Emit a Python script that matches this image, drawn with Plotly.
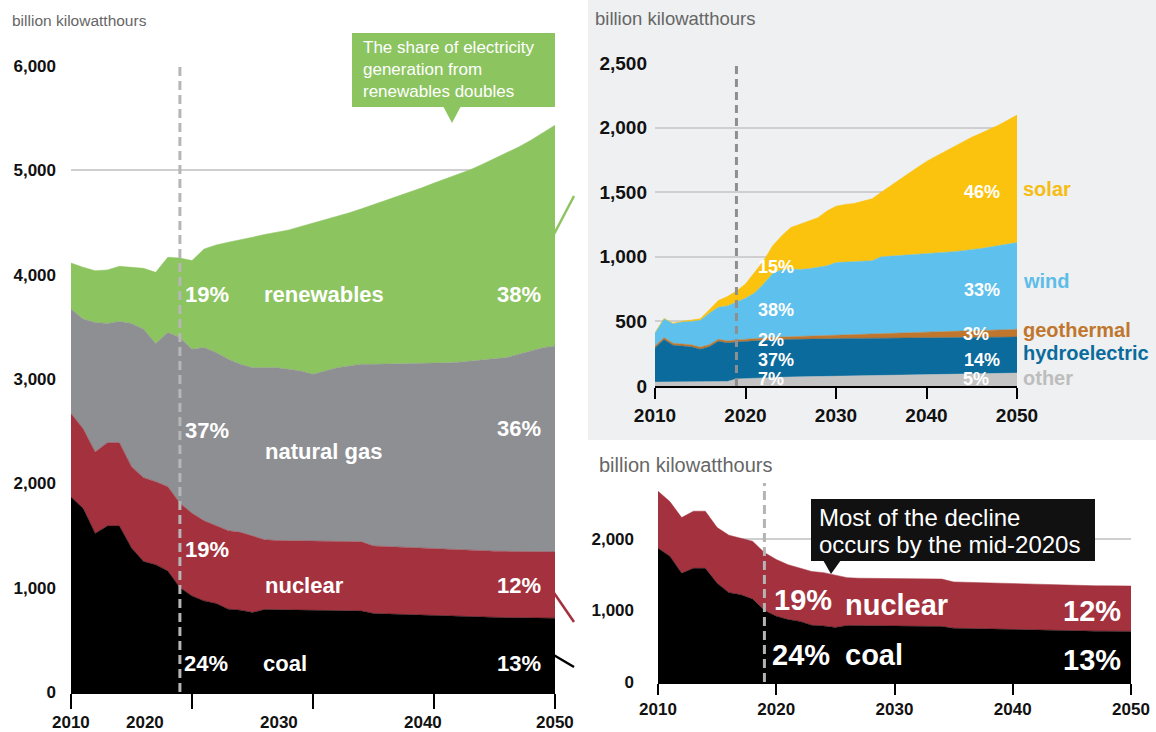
import plotly.graph_objects as go

W, H = 1156, 732
FONT = "Liberation Sans, Arial, sans-serif"


def px(x):
    return x / W


def py(y):
    return 1 - y / H


# ---------------- data (billion kWh) ----------------
YEARS = list(range(2010, 2051))

COAL = [1870, 1760, 1520, 1590, 1590, 1380, 1250, 1220, 1160, 1000,
        920, 873, 848, 794, 784, 762, 790, 788, 786, 785,
        784, 782, 780, 778, 776, 752, 748, 744, 740, 735,
        730, 727, 724, 720, 717, 714, 712, 711, 710, 709,
        708]
NUCLEAR = [800, 764, 780, 800, 800, 780, 804, 796, 808, 810,
           794, 768, 746, 752, 746, 730, 670, 664, 664, 665,
           664, 663, 662, 667, 664, 648, 647, 646, 645, 643,
           641, 641, 639, 638, 637, 636, 636, 635, 635, 635,
           635]
NATURAL_GAS = [1000, 1050, 1242, 1142, 1161, 1372, 1424, 1324, 1478, 1587,
               1571, 1660, 1659, 1643, 1611, 1617, 1649, 1657, 1643, 1627,
               1597, 1632, 1667, 1680, 1701, 1741, 1746, 1755, 1763, 1772,
               1779, 1787, 1797, 1812, 1826, 1839, 1857, 1891, 1925, 1956,
               1974]
RENEWABLES = [442, 497, 496, 513, 529, 539, 583, 682, 721, 763,
              850, 946, 1032, 1122, 1192, 1250, 1276, 1298, 1336, 1385,
              1449, 1449, 1449, 1468, 1490, 1529, 1571, 1605, 1644, 1683,
              1728, 1765, 1802, 1836, 1878, 1923, 1962, 1987, 2018, 2059,
              2116]

OTHER = [30, 30, 31, 31, 32, 32, 33, 34, 35, 55,
         58, 62, 65, 68, 70, 70, 71, 72, 73, 74,
         75, 76, 77, 78, 79, 80, 81, 82, 83, 84,
         85, 86, 87, 88, 90, 91, 93, 95, 96, 98,
         100]
HYDRO = [265, 329, 284, 277, 271, 253, 270, 312, 298, 286,
         288, 288, 289, 289, 289, 291, 291, 291, 291, 292,
         292, 292, 291, 291, 291, 291, 290, 290, 289, 289,
         287, 287, 286, 286, 285, 284, 283, 282, 281, 280,
         279]
GEOTHERMAL = [15, 16, 16, 16, 16, 16, 16, 16, 16, 16,
              17, 17, 18, 19, 20, 20, 21, 22, 23, 24,
              25, 27, 28, 30, 32, 34, 36, 38, 40, 42,
              44, 46, 48, 49, 51, 52, 54, 55, 57, 58,
              60]
WIND = [100, 145, 151, 171, 181, 207, 245, 248, 271, 293,
        317, 353, 418, 494, 521, 524, 519, 523, 533, 540,
        563, 565, 566, 566, 568, 595, 598, 600, 602, 603,
        605, 608, 613, 617, 621, 627, 634, 643, 652, 662,
        671]
SOLAR = [2, 3, 4, 7, 10, 13, 26, 52, 72, 85,
         110, 159, 179, 215, 262, 321, 349, 369, 383, 424,
         437, 445, 451, 466, 479, 500, 541, 587, 630, 674,
         717, 750, 781, 814, 845, 872, 892, 912, 935, 961,
         987]

HISTORY_END = 2019
X_TICKS = [2010, 2020, 2030, 2040, 2050]
X_TICK_TEXT = ["2010", "2020", "2030", "2040", "2050"]

# ---------------- colors ----------------
C_COAL = "#000000"
C_NUC = "#a3323e"
C_GAS = "#8e8f93"
C_REN = "#8cc460"
C_SOLAR = "#fbc30d"
C_WIND = "#5ec0ec"
C_GEO = "#c0762c"
C_HYDRO = "#0a6b9c"
C_OTHER = "#c4c4c4"

fig = go.Figure()


def area(name, y, color, xa, ya, group):
    fig.add_trace(go.Scatter(
        x=YEARS, y=y, name=name, mode="lines", stackgroup=group,
        line=dict(width=0.5, color=color), fillcolor=color,
        xaxis=xa, yaxis=ya, showlegend=False, hoverinfo="x+y+name"))


# left: total generation
area("coal", COAL, C_COAL, "x", "y", "L")
area("nuclear", NUCLEAR, C_NUC, "x", "y", "L")
area("natural gas", NATURAL_GAS, C_GAS, "x", "y", "L")
area("renewables", RENEWABLES, C_REN, "x", "y", "L")
# top right: renewables breakdown
area("other", OTHER, C_OTHER, "x2", "y2", "TR")
area("hydroelectric", HYDRO, C_HYDRO, "x2", "y2", "TR")
area("geothermal", GEOTHERMAL, C_GEO, "x2", "y2", "TR")
area("wind", WIND, C_WIND, "x2", "y2", "TR")
area("solar", SOLAR, C_SOLAR, "x2", "y2", "TR")
# bottom right: coal + nuclear
area("coal", COAL, C_COAL, "x3", "y3", "BR")
area("nuclear", NUCLEAR, C_NUC, "x3", "y3", "BR")


def xax(domain, anchor, ticklen, show_labels=True, size=15):
    return dict(domain=domain, anchor=anchor, range=[2010, 2050],
                tickvals=X_TICKS, ticktext=X_TICK_TEXT, showticklabels=show_labels,
                ticks="outside", ticklen=ticklen, tickwidth=2, tickcolor="#000",
                showline=True, linecolor="#000", linewidth=2, showgrid=False,
                zeroline=False, fixedrange=True, automargin=False,
                tickfont=dict(family=FONT, size=size, color="#111", weight="bold"))


def yax(domain, anchor, rng, vals, standoff, size=16):
    return dict(domain=domain, anchor=anchor, range=rng, tickvals=vals,
                ticktext=[f"{v:,}" for v in vals], showgrid=True,
                gridcolor="#cfcfcf", gridwidth=1.5, zeroline=False, showline=False,
                ticks="", ticklabelstandoff=standoff, fixedrange=True, automargin=False,
                tickfont=dict(family=FONT, size=size, color="#111", weight="bold"))


fig.update_layout(
    xaxis=xax([px(71), px(555)], "y", 15, show_labels=False),
    yaxis=yax([py(692), py(66)], "x", [0, 6000],
              [0, 1000, 2000, 3000, 4000, 5000, 6000], 14, size=17),
    xaxis2=xax([px(655), px(1017)], "y2", 11, size=19),
    yaxis2=yax([py(386), py(63)], "x2", [0, 2500],
               [0, 500, 1000, 1500, 2000, 2500], 7, size=19),
    xaxis3=xax([px(658), px(1131)], "y3", 11, size=17),
    yaxis3=yax([py(682), py(489)], "x3", [0, 2700], [0, 1000, 2000], 23, size=17),
)

shapes = []
# top-right panel background
shapes.append(dict(type="rect", xref="paper", yref="paper", x0=px(588), x1=1,
                   y0=py(440), y1=1, fillcolor="#eef0f1", line=dict(width=0),
                   layer="below"))
# history / projection dividers
shapes.append(dict(type="line", xref="x", yref="y", x0=HISTORY_END, x1=HISTORY_END,
                   y0=0, y1=6000, line=dict(color="#b6b6b6", width=3, dash="9px,5px"),
                   layer="above"))
shapes.append(dict(type="line", xref="x2", yref="y2", x0=HISTORY_END, x1=HISTORY_END,
                   y0=0, y1=2500, line=dict(color="#8f8f8f", width=3, dash="8px,5px"),
                   layer="above"))
shapes.append(dict(type="line", xref="x3", yref="paper", x0=HISTORY_END, x1=HISTORY_END,
                   y0=py(682), y1=py(483), line=dict(color="#b4b4b4", width=3, dash="9px,5px"),
                   layer="above"))
# connector lines
shapes.append(dict(type="line", xref="paper", yref="paper", x0=px(552), y0=py(238),
                   x1=px(574), y1=py(196), line=dict(color=C_REN, width=2.5)))
shapes.append(dict(type="line", xref="paper", yref="paper", x0=px(552), y0=py(590),
                   x1=px(574), y1=py(622), line=dict(color=C_NUC, width=2.5)))
shapes.append(dict(type="line", xref="paper", yref="paper", x0=px(552), y0=py(654),
                   x1=px(574), y1=py(667), line=dict(color="#000", width=2.5)))
# callout boxes
shapes.append(dict(type="rect", xref="paper", yref="paper", x0=px(352), x1=px(555),
                   y0=py(107), y1=py(33), fillcolor=C_REN, line=dict(width=0)))
shapes.append(dict(type="path", xref="paper", yref="paper",
                   path=f"M {px(443)} {py(106)} L {px(461)} {py(106)} L {px(452)} {py(123)} Z",
                   fillcolor=C_REN, line=dict(width=0)))
shapes.append(dict(type="rect", xref="paper", yref="paper", x0=px(811), x1=px(1095),
                   y0=py(561), y1=py(499), fillcolor="#111111", line=dict(width=0),
                   layer="above"))
shapes.append(dict(type="path", xref="paper", yref="paper",
                   path=f"M {px(823)} {py(560)} L {px(841)} {py(560)} L {px(831)} {py(574)} Z",
                   fillcolor="#111111", line=dict(width=0), layer="above"))

ann = []


def label(text, x, y, size, color="#ffffff", bold=True, xanchor="center", yanchor="middle"):
    ann.append(dict(text=f"<b>{text}</b>" if bold else text, x=px(x), y=py(y),
                    xref="paper", yref="paper", showarrow=False,
                    xanchor=xanchor, yanchor=yanchor,
                    font=dict(family=FONT, size=size, color=color)))


# axis titles
label("billion kilowatthours", 10, 21, 15.5, "#666666", bold=False, xanchor="left")
label("billion kilowatthours", 593, 18, 18.5, "#666666", bold=False, xanchor="left")
label("billion kilowatthours", 597, 465, 20, "#666666", bold=False, xanchor="left")

# left x tick labels (positions as in the reference)
LEFT_XLABEL_POS = [2010, 2016.1, 2027.2, 2039.1, 2050]
for t, xp in zip(X_TICK_TEXT, LEFT_XLABEL_POS):
    ann.append(dict(text=f"<b>{t}</b>", x=xp, y=py(722), xref="x", yref="paper",
                    showarrow=False, xanchor="center", yanchor="middle",
                    font=dict(family=FONT, size=17, color="#111")))

# left panel labels
for t, x, y in [("19%", 207, 295), ("renewables", 324, 295), ("38%", 519, 295),
                ("37%", 207, 430), ("natural gas", 323, 451), ("36%", 519, 428),
                ("19%", 207, 549), ("nuclear", 304, 585), ("12%", 519, 585),
                ("24%", 206, 663), ("coal", 285, 663), ("13%", 519, 663)]:
    label(t, x, y, 22)

# callout texts
ann.append(dict(text="The share of electricity<br>generation from<br>renewables doubles",
                x=px(361), y=py(36), xref="paper", yref="paper", showarrow=False,
                xanchor="left", yanchor="top", align="left",
                font=dict(family=FONT, size=17, color="#ffffff")))
for t, y in [("Most of the decline", 517), ("occurs by the mid-2020s", 544)]:
    label(t, 817, y, 24, bold=False, xanchor="left")

# top right labels
for t, x, y in [("15%", 776, 267), ("38%", 776, 310), ("2%", 771, 340),
                ("37%", 776, 360), ("7%", 771, 379),
                ("46%", 982, 192), ("33%", 982, 290), ("3%", 976, 334),
                ("14%", 982, 360), ("5%", 976, 379)]:
    label(t, x, y, 18)
for t, y, c in [("solar", 189, "#f6bd14"), ("wind", 281, "#5dbde9"),
                ("geothermal", 330, C_GEO), ("hydroelectric", 353, C_HYDRO),
                ("other", 378, "#bdbdbd")]:
    label(t, 1021, y, 20, c, xanchor="left")

# bottom right labels
for t, x, y in [("19%", 803, 600), ("nuclear", 896, 605), ("12%", 1092, 611),
                ("24%", 801, 655), ("coal", 874, 655), ("13%", 1092, 660)]:
    label(t, x, y, 29)

fig.update_layout(
    width=W, height=H, autosize=False,
    margin=dict(l=0, r=0, t=0, b=0, pad=0),
    paper_bgcolor="#ffffff", plot_bgcolor="rgba(0,0,0,0)",
    shapes=shapes, annotations=ann, showlegend=False,
    font=dict(family=FONT),
)

fig.write_html("out.html", include_plotlyjs=True, config={"displayModeBar": False},
               post_script="document.body.style.margin='0';document.body.style.overflow='hidden';")
